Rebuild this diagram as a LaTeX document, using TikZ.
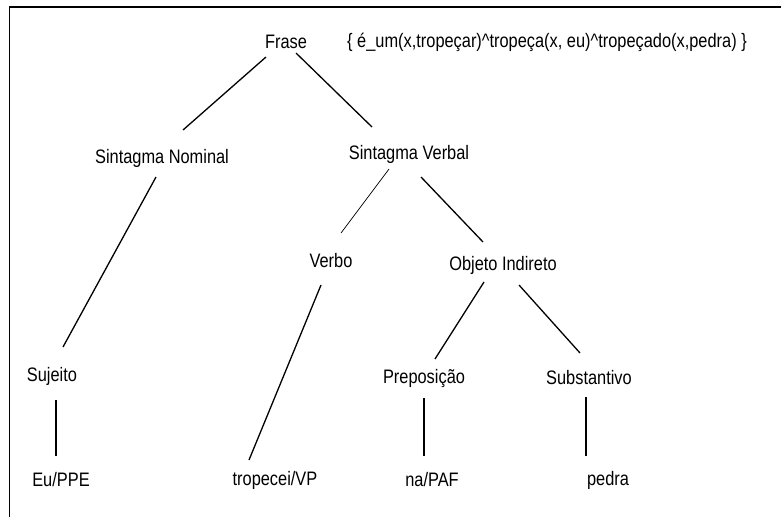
\documentclass[tikz,border=0pt]{standalone}
\usepackage{fontspec}
\setmainfont{Liberation Sans}[FakeStretch=0.84]
\usetikzlibrary{calc}
\begin{document}
\begin{tikzpicture}[x=1pt, y=-1pt,
  word/.style={inner sep=0pt, font=\fontsize{19.5}{22}\selectfont},
  branch/.style={line width=1.3pt},
  thinbranch/.style={line width=0.7pt}]
  \useasboundingbox (0,0) rectangle (781,517);
  \draw[line width=1.8pt] (9.5,517) |- (781,7);
  % nodes
  \node[word] (frase) at (286,42) {Frase};
  \node[word] (formula) at (547,42) {\{ é\_um(x,tropeçar)\textasciicircum tropeça(x, eu)\textasciicircum tropeçado(x,pedra) \}};
  \node[word] (sn) at (162,158) {Sintagma Nominal};
  \node[word] (sv) at (409,154) {Sintagma Verbal};
  \node[word] (verbo) at (331,261) {Verbo};
  \node[word] (oi) at (503,265) {Objeto Indireto};
  \node[word] (sujeito) at (52,376) {Sujeito};
  \node[word] (prep) at (424,378) {Preposição};
  \node[word] (subst) at (589,378) {Substantivo};
  \node[word] (eu) at (61,480) {Eu/PPE};
  \node[word] (tropecei) at (275,480) {tropecei/VP};
  \node[word] (na) at (432,480) {na/PAF};
  \node[word] (pedra) at (608,480) {pedra};
  % branches
  \draw[branch] ($(frase)+(-20,15)$) -- ($(sn)+(21,-28)$);
  \draw[branch] ($(frase)+(10,11)$) -- ($(sv)+(-37,-27)$);
  \draw[branch] ($(sn)+(-6,19)$) -- ($(sujeito)+(11,-29)$);
  \draw[thinbranch] ($(sv)+(-20,15)$) -- ($(verbo)+(10,-28)$);
  \draw[branch] ($(sv)+(12,23)$) -- ($(oi)+(-20,-23)$);
  \draw[branch] ($(verbo)+(-10,24)$) -- ($(tropecei)+(-26,-20)$);
  \draw[branch] ($(oi)+(-19,17)$) -- ($(prep)+(11,-19)$);
  \draw[branch] ($(oi)+(16,20)$) -- ($(subst)+(-9,-25)$);
  \draw[branch] ($(sujeito)+(4,24)$) -- ($(eu)+(-5,-24)$);
  \draw[branch] ($(prep)+(0,20)$) -- ($(na)+(-8,-24)$);
  \draw[branch] ($(subst)+(-3,19)$) -- ($(pedra)+(-22,-24)$);
\end{tikzpicture}
\end{document}
